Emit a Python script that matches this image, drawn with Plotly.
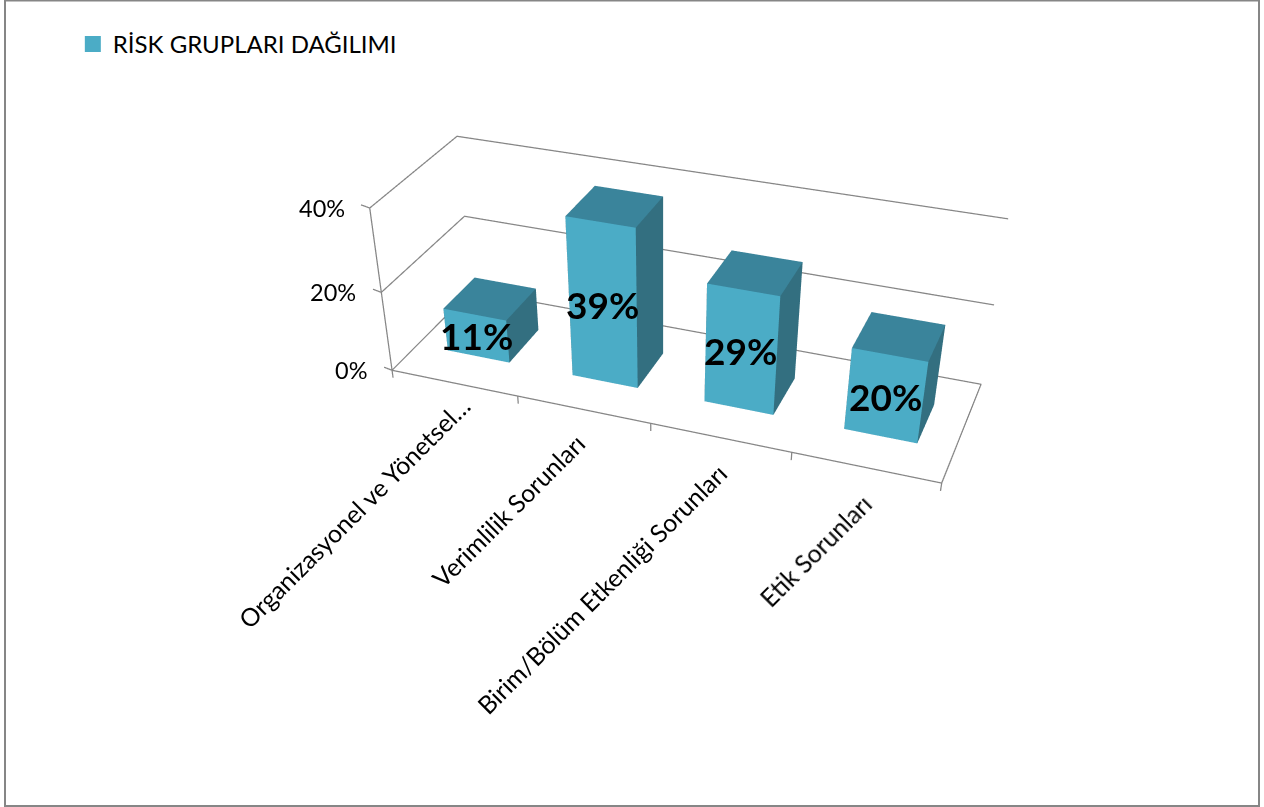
import plotly.graph_objects as go

categories = ["Organizasyonel ve Yönetsel…", "Verimlilik Sorunları", "Birim/Bölüm Etkenliği Sorunları", "Etik Sorunları"]
values = [11, 39, 29, 20]
labels = ["11%", "39%", "29%", "20%"]
value_ticks = [0, 20, 40]
value_tick_labels = ["0%", "20%", "40%"]
series_name = "RİSK GRUPLARI DAĞILIMI"

H = 1200  # taller than the window: gives the long lens of the original chart; the page crops to 807
half_w, y0, y1 = 0.2505, 0.3065, 0.7023
XR, YR, ZR = [-1, 5], [-0.25, 1.25], [-20, 60]
aspect = dict(x=1.5, y=0.3203 * 1.5, z=0.3113 * 2)
camera = dict(eye=dict(x=0.7551, y=-2.1049, z=1.1981),
              center=dict(x=0.0362, y=-0.3466, z=-0.3915),
              up=dict(x=0.0099, y=0.0108, z=1),
              projection=dict(type="perspective"))

FRONT, TOP, SIDE, GRID = "#4BACC6", "#3A849B", "#336F80", "#868686"
FONT = "Lato"
cat_xshift = [23, 10, 15, 16]
cat_yshift = [6, -5, -7, -7]

fig = go.Figure()

vx, vy, vz, fi, fj, fk, fc = [], [], [], [], [], [], []
quads = [((0, 1, 5, 4), FRONT), ((4, 5, 7, 6), TOP), ((1, 3, 7, 5), SIDE),
         ((0, 2, 6, 4), SIDE), ((2, 3, 7, 6), SIDE), ((0, 1, 3, 2), SIDE)]
for i, v in enumerate(values):
    b = len(vx)
    c = i + 0.5
    for z in (0, v):
        for y in (y0, y1):
            for x in (c - half_w, c + half_w):
                vx.append(x); vy.append(y); vz.append(z)
    for q, col in quads:
        for t in ((q[0], q[1], q[2]), (q[0], q[2], q[3])):
            fi.append(b + t[0]); fj.append(b + t[1]); fk.append(b + t[2]); fc.append(col)
fig.add_trace(go.Mesh3d(x=vx, y=vy, z=vz, i=fi, j=fj, k=fk, facecolor=fc, flatshading=True,
                        showlegend=False, hoverinfo="skip",
                        lighting=dict(ambient=1, diffuse=0, specular=0, fresnel=0, roughness=1)))


def line(xs, ys, zs):
    fig.add_trace(go.Scatter3d(x=xs, y=ys, z=zs, mode="lines", line=dict(color=GRID, width=2.5),
                               showlegend=False, hoverinfo="skip"))


n = len(categories)
for z in value_ticks[1:]:
    line([0, 0, n], [0, 1, 1], [z, z, z])
line([0, n, n, 0, 0], [0, 0, 1, 1, 0], [0, 0, 0, 0, 0])
line([0, 0], [0, 0], [value_ticks[0], value_ticks[-1]])
for z in value_ticks:
    line([0, -0.064], [0, 0], [z, z + 0.4])
for x in range(n + 1):
    line([x, x], [0, 0], [0, -2])

fig.add_trace(go.Scatter3d(x=[None], y=[None], z=[None], mode="markers",
                           marker=dict(symbol="square", size=16, color=FRONT), name=series_name))

ann = []
for i, t in enumerate(labels):
    ann.append(dict(x=i + 0.5, y=y0, z=values[i] / 2, text=f"<b>{t}</b>", showarrow=False,
                    font=dict(family=FONT, size=37, color="#000"), xanchor="center", yanchor="middle"))
for i, t in enumerate(categories):
    ann.append(dict(x=i + 0.5, y=0, z=-3, text=t, showarrow=False, textangle=-45, xanchor="right", yanchor="top",
                    xshift=cat_xshift[i], yshift=cat_yshift[i], font=dict(family=FONT, size=24.8, color="#000")))
for z, t in zip(value_ticks, value_tick_labels):
    ann.append(dict(x=0, y=0, z=z, text=t, showarrow=False, xanchor="right", yanchor="middle", xshift=-23,
                    font=dict(family=FONT, size=23.5, color="#000")))

noax = dict(visible=False, showgrid=False, zeroline=False, showbackground=False, showspikes=False)
fig.update_layout(
    width=1264, height=H, margin=dict(l=0, r=0, t=0, b=0), paper_bgcolor="white", showlegend=True,
    legend=dict(x=88 / 1264 - 0.012, y=1 - 22 / H, xanchor="left", yanchor="top",
                font=dict(family=FONT, size=24, color="#000")),
    scene=dict(domain=dict(x=[0, 1], y=[0, 1]), aspectmode="manual", aspectratio=aspect, camera=camera,
               xaxis=dict(range=XR, **noax), yaxis=dict(range=YR, **noax), zaxis=dict(range=ZR, **noax),
               annotations=ann, dragmode=False),
    shapes=[dict(type="rect", xref="paper", yref="paper", x0=5 / 1264, x1=1259 / 1264,
                 y0=1 - 806 / H, y1=1 - 0.5 / H, line=dict(color=GRID, width=2))],
)
fig.write_html("out.html", config=dict(displayModeBar=False),
               post_script="document.documentElement.style.overflow='hidden';"
                           "document.body.style.margin='0';document.body.style.overflow='hidden';")
